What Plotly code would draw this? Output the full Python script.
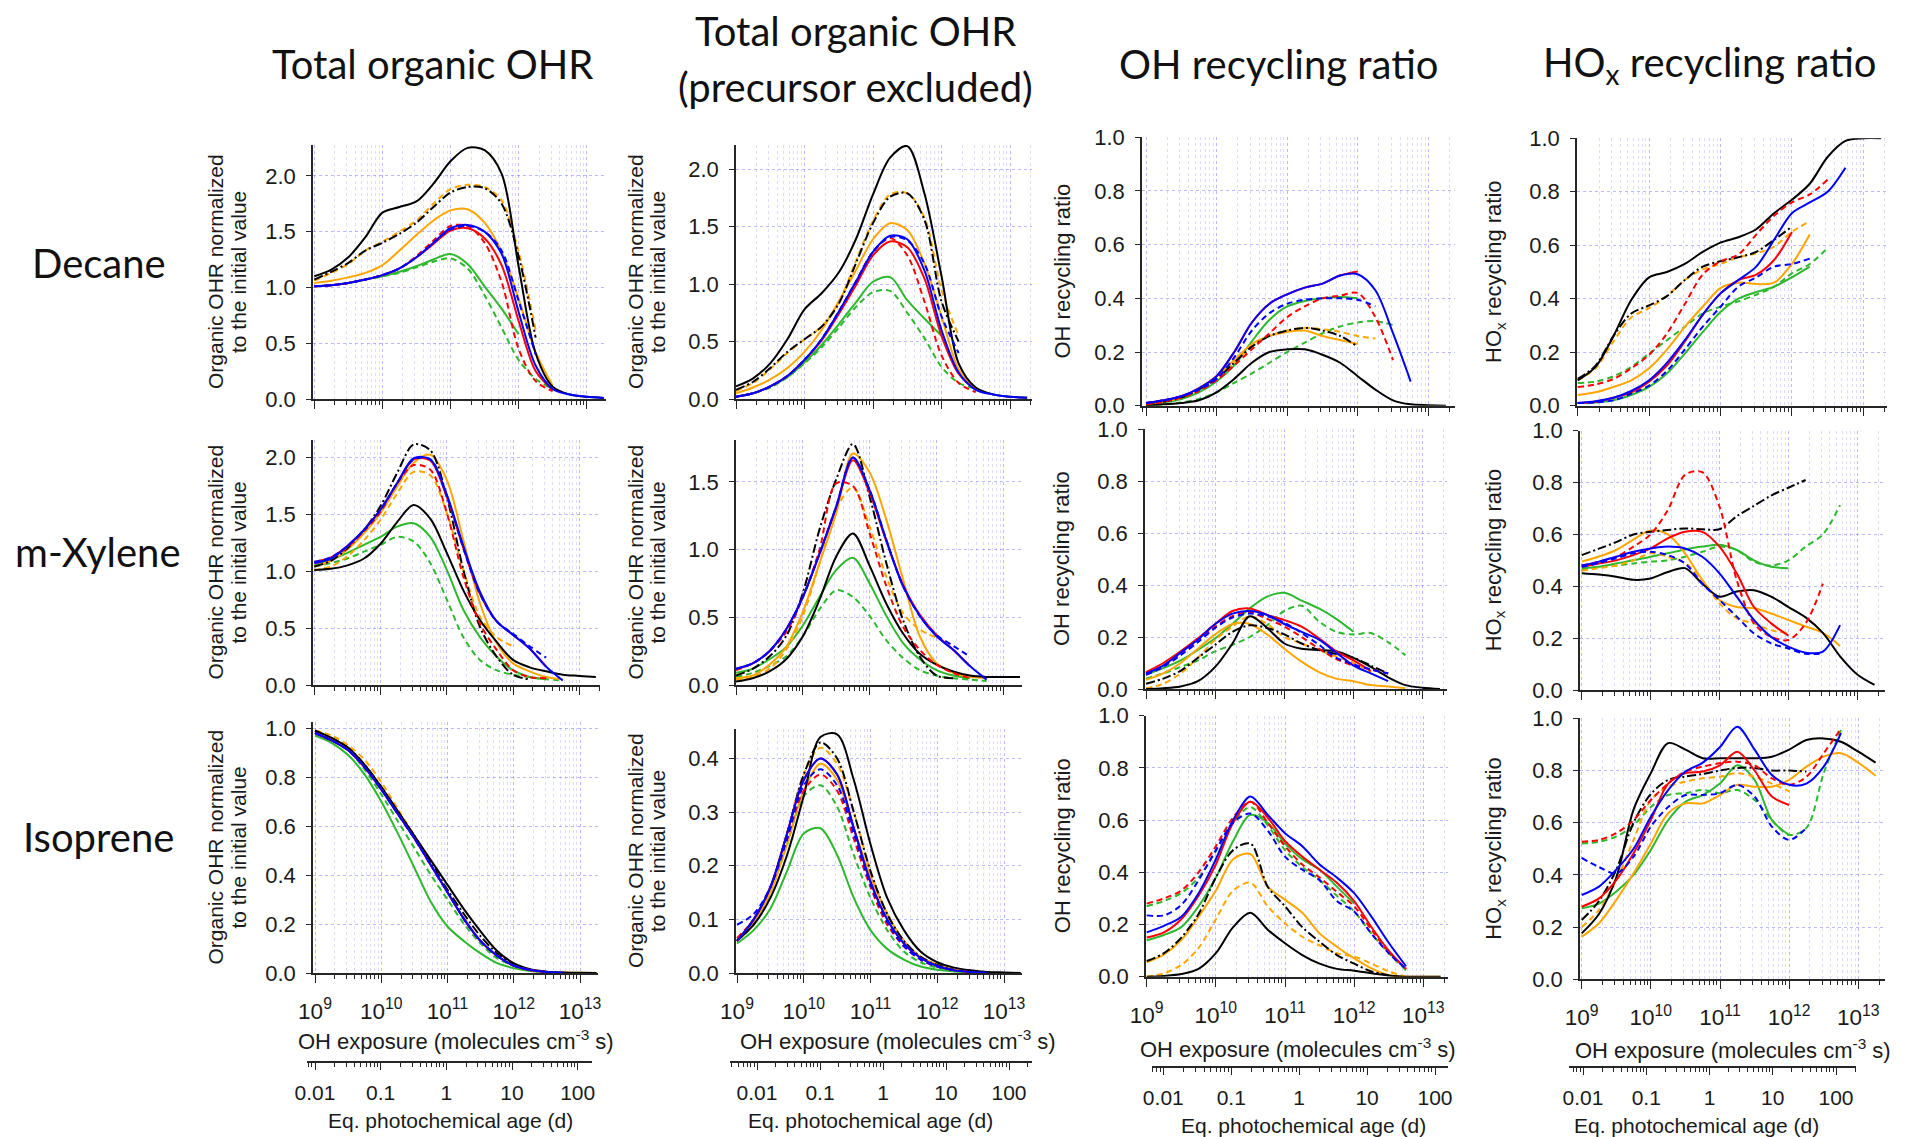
import plotly.graph_objects as go

W, H = 1915, 1137
N = None

# ---------------- shared axis data ----------------
LOG_EXPOSURE = [9.0, 9.25, 9.5, 9.75, 10.0, 10.25, 10.5, 10.75, 11.0, 11.25,
                11.5, 11.75, 12.0, 12.25, 12.5, 12.75, 13.0, 13.25]
EXPOSURE = [10 ** v for v in LOG_EXPOSURE]          # OH exposure (molecules cm-3 s)
AGE_TICKS = [0.01, 0.1, 1, 10, 100]                   # eq. photochemical age (d)
ROW_LABELS = ["Decane", "m-Xylene", "Isoprene"]
COL_TITLES = [["Total organic OHR"], ["Total organic OHR", "(precursor excluded)"],
              ["OH recycling ratio"], ["HO<sub>x</sub> recycling ratio"]]

# ---------------- Decane ----------------
DECANE_OHR = dict(
    black=[1.10, 1.16, 1.27, 1.45, 1.67, 1.72, 1.77, 1.93, 2.13, 2.25, 2.23, 2.02, 1.19, 0.41, 0.11, 0.04, 0.02, 0.01],
    black_dd=[1.07, 1.14, 1.22, 1.33, 1.40, 1.48, 1.58, 1.72, 1.85, 1.90, 1.89, 1.75, 1.28, 0.55, N, N, N, N],
    orange=[1.04, 1.06, 1.09, 1.13, 1.20, 1.33, 1.47, 1.60, 1.69, 1.70, 1.58, 1.32, 0.90, 0.42, 0.12, N, N, N],
    orange_d=[1.06, 1.13, 1.21, 1.33, 1.41, 1.50, 1.60, 1.75, 1.88, 1.92, 1.90, 1.78, 1.32, 0.62, N, N, N, N],
    red=[1.01, 1.02, 1.04, 1.07, 1.11, 1.17, 1.27, 1.39, 1.51, 1.53, 1.44, 1.20, 0.70, 0.25, 0.08, N, N, N],
    red_d=[1.01, 1.02, 1.04, 1.07, 1.11, 1.17, 1.28, 1.42, 1.55, 1.55, 1.40, 1.05, 0.45, 0.16, 0.07, N, N, N],
    blue=[1.01, 1.02, 1.04, 1.07, 1.11, 1.17, 1.27, 1.40, 1.53, 1.56, 1.50, 1.30, 0.78, 0.30, 0.09, 0.04, 0.02, 0.01],
    blue_d=[1.01, 1.02, 1.04, 1.07, 1.11, 1.17, 1.27, 1.40, 1.52, 1.55, 1.50, 1.33, 0.88, 0.40, N, N, N, N],
    green=[1.01, 1.02, 1.04, 1.07, 1.10, 1.14, 1.19, 1.25, 1.30, 1.21, 1.01, 0.81, 0.58, N, N, N, N, N],
    green_d=[1.01, 1.02, 1.04, 1.07, 1.10, 1.13, 1.18, 1.23, 1.26, 1.17, 0.93, 0.64, 0.35, 0.18, 0.09, N, N, N],
)
DECANE_OHR_EXCL = dict(
    black=[0.11, 0.18, 0.31, 0.52, 0.78, 0.92, 1.10, 1.39, 1.78, 2.10, 2.20, 1.79, 1.07, 0.31, 0.10, 0.04, 0.02, 0.01],
    black_dd=[0.08, 0.15, 0.27, 0.41, 0.52, 0.63, 0.83, 1.18, 1.53, 1.76, 1.79, 1.56, 0.85, 0.50, N, N, N, N],
    orange=[0.05, 0.10, 0.17, 0.27, 0.41, 0.60, 0.85, 1.12, 1.39, 1.53, 1.47, 1.18, 0.72, 0.26, 0.08, N, N, N],
    orange_d=[0.07, 0.14, 0.26, 0.40, 0.52, 0.63, 0.84, 1.20, 1.55, 1.78, 1.79, 1.58, 0.95, 0.55, N, N, N, N],
    red=[0.02, 0.05, 0.11, 0.20, 0.34, 0.51, 0.74, 0.99, 1.25, 1.37, 1.32, 1.05, 0.55, 0.22, 0.08, N, N, N],
    red_d=[0.02, 0.05, 0.11, 0.20, 0.34, 0.52, 0.76, 1.02, 1.28, 1.40, 1.25, 0.85, 0.38, 0.14, 0.06, N, N, N],
    blue=[0.02, 0.05, 0.11, 0.20, 0.34, 0.52, 0.76, 1.02, 1.28, 1.42, 1.39, 1.12, 0.60, 0.23, 0.08, 0.04, 0.02, 0.01],
    blue_d=[0.02, 0.05, 0.11, 0.20, 0.34, 0.52, 0.76, 1.02, 1.28, 1.41, 1.38, 1.18, 0.72, 0.40, N, N, N, N],
    green=[0.02, 0.05, 0.11, 0.19, 0.32, 0.47, 0.65, 0.84, 1.02, 1.06, 0.86, 0.70, 0.55, N, N, N, N, N],
    green_d=[0.02, 0.05, 0.10, 0.19, 0.31, 0.45, 0.62, 0.80, 0.93, 0.94, 0.75, 0.53, 0.28, 0.14, 0.09, N, N, N],
)
DECANE_OH = dict(
    black=[0.00, 0.005, 0.01, 0.02, 0.05, 0.10, 0.16, 0.20, 0.21, 0.21, 0.19, 0.16, 0.11, 0.06, 0.02, 0.005, 0.002, 0.0],
    black_dd=[0.01, 0.015, 0.03, 0.06, 0.10, 0.16, 0.22, 0.26, 0.28, 0.29, 0.28, 0.26, 0.22, N, N, N, N, N],
    orange=[0.005, 0.015, 0.03, 0.065, 0.11, 0.17, 0.23, 0.26, 0.275, 0.28, 0.26, 0.245, 0.23, N, N, N, N, N],
    orange_d=[0.01, 0.015, 0.03, 0.06, 0.10, 0.16, 0.22, 0.26, 0.28, 0.29, 0.285, 0.275, 0.26, 0.25, N, N, N, N],
    red=[0.01, 0.02, 0.035, 0.065, 0.11, 0.20, 0.31, 0.38, 0.415, 0.44, 0.455, 0.485, 0.50, N, N, N, N, N],
    red_d=[0.005, 0.015, 0.03, 0.055, 0.095, 0.15, 0.21, 0.27, 0.33, 0.37, 0.40, 0.41, 0.42, 0.33, 0.17, N, N, N],
    blue=[0.01, 0.02, 0.035, 0.065, 0.11, 0.20, 0.31, 0.38, 0.415, 0.44, 0.455, 0.485, 0.49, 0.43, 0.27, 0.09, N, N],
    blue_d=[0.01, 0.02, 0.035, 0.06, 0.10, 0.18, 0.28, 0.345, 0.38, 0.395, 0.40, 0.40, 0.395, 0.37, N, N, N, N],
    green=[0.005, 0.012, 0.025, 0.05, 0.09, 0.15, 0.24, 0.32, 0.37, 0.39, 0.40, 0.405, 0.40, N, N, N, N, N],
    green_d=[0.0, 0.005, 0.012, 0.025, 0.05, 0.085, 0.12, 0.16, 0.20, 0.235, 0.27, 0.295, 0.31, 0.315, 0.30, N, N, N],
)
DECANE_HOX = dict(
    black=[0.095, 0.145, 0.26, 0.395, 0.48, 0.50, 0.53, 0.575, 0.61, 0.63, 0.66, 0.72, 0.77, 0.83, 0.93, 0.99, 1.0, 1.0],
    black_dd=[0.10, 0.15, 0.26, 0.345, 0.375, 0.41, 0.47, 0.52, 0.54, 0.555, 0.575, 0.62, 0.67, N, N, N, N, N],
    orange=[0.04, 0.05, 0.07, 0.095, 0.14, 0.21, 0.295, 0.37, 0.44, 0.46, 0.455, 0.46, 0.53, 0.64, N, N, N, N],
    orange_d=[0.095, 0.14, 0.24, 0.33, 0.365, 0.41, 0.47, 0.51, 0.53, 0.555, 0.57, 0.595, 0.65, 0.69, N, N, N, N],
    red=[0.01, 0.015, 0.03, 0.05, 0.09, 0.15, 0.24, 0.34, 0.42, 0.47, 0.49, 0.545, 0.65, N, N, N, N, N],
    red_d=[0.07, 0.08, 0.10, 0.14, 0.19, 0.27, 0.38, 0.49, 0.54, 0.565, 0.64, 0.71, 0.76, 0.79, 0.845, N, N, N],
    blue=[0.01, 0.017, 0.03, 0.055, 0.095, 0.16, 0.245, 0.34, 0.42, 0.47, 0.52, 0.62, 0.72, 0.76, 0.80, 0.89, N, N],
    blue_d=[0.01, 0.012, 0.02, 0.045, 0.075, 0.13, 0.21, 0.295, 0.37, 0.445, 0.48, 0.52, 0.53, 0.55, N, N, N, N],
    green=[0.01, 0.012, 0.02, 0.04, 0.07, 0.12, 0.195, 0.275, 0.35, 0.40, 0.425, 0.445, 0.48, 0.52, N, N, N, N],
    green_d=[0.085, 0.09, 0.11, 0.145, 0.195, 0.245, 0.295, 0.345, 0.37, 0.39, 0.415, 0.445, 0.495, 0.53, 0.59, N, N, N],
)

# ---------------- m-Xylene ----------------
XYLENE_OHR = dict(
    black=[1.01, 1.02, 1.05, 1.11, 1.24, 1.43, 1.58, 1.46, 1.16, 0.83, 0.57, 0.38, 0.22, 0.155, 0.12, 0.09, 0.08, 0.07],
    black_dd=[1.04, 1.09, 1.20, 1.36, 1.57, 1.86, 2.11, 2.06, 1.65, 1.01, 0.51, 0.25, 0.09, 0.05, N, N, N, N],
    orange=[1.04, 1.09, 1.19, 1.33, 1.51, 1.74, 1.95, 2.02, 1.80, 1.27, 0.72, 0.37, 0.19, 0.12, 0.07, 0.05, N, N],
    orange_d=[1.01, 1.04, 1.13, 1.27, 1.45, 1.68, 1.87, 1.84, 1.51, 1.01, 0.60, 0.42, 0.34, N, N, N, N, N],
    red=[1.08, 1.12, 1.22, 1.36, 1.54, 1.77, 1.98, 1.97, 1.65, 1.20, 0.80, 0.56, 0.44, 0.32, 0.16, N, N, N],
    red_d=[1.07, 1.11, 1.21, 1.35, 1.52, 1.77, 1.93, 1.89, 1.51, 0.95, 0.54, 0.31, 0.13, 0.07, 0.06, N, N, N],
    blue=[1.07, 1.11, 1.22, 1.36, 1.54, 1.77, 1.99, 1.98, 1.67, 1.22, 0.82, 0.56, 0.44, 0.32, 0.16, 0.04, N, N],
    blue_d=[1.08, 1.12, 1.22, 1.36, 1.54, 1.77, 1.98, 1.98, 1.66, 1.20, 0.80, 0.56, 0.45, 0.34, 0.24, N, N, N],
    green=[1.05, 1.10, 1.16, 1.23, 1.30, 1.39, 1.42, 1.30, 1.01, 0.66, 0.42, 0.25, 0.13, 0.07, 0.05, N, N, N],
    green_d=[1.04, 1.07, 1.11, 1.17, 1.23, 1.30, 1.26, 1.07, 0.75, 0.42, 0.22, 0.13, 0.09, 0.07, 0.05, 0.04, N, N],
)
XYLENE_OHR_EXCL = dict(
    black=[0.025, 0.05, 0.10, 0.19, 0.36, 0.63, 0.95, 1.12, 0.88, 0.60, 0.38, 0.23, 0.15, 0.10, 0.07, 0.06, 0.06, 0.06],
    black_dd=[0.07, 0.12, 0.21, 0.36, 0.68, 1.15, 1.52, 1.78, 1.39, 0.90, 0.48, 0.21, 0.07, 0.05, N, N, N, N],
    orange=[0.05, 0.07, 0.15, 0.28, 0.54, 0.90, 1.27, 1.71, 1.57, 1.22, 0.78, 0.36, 0.16, 0.09, 0.06, 0.05, N, N],
    orange_d=[0.04, 0.06, 0.12, 0.26, 0.51, 0.90, 1.30, 1.46, 1.17, 0.80, 0.53, 0.41, 0.35, N, N, N, N, N],
    red=[0.12, 0.16, 0.25, 0.41, 0.65, 0.97, 1.31, 1.66, 1.42, 1.06, 0.74, 0.52, 0.37, 0.26, 0.14, N, N, N],
    red_d=[0.11, 0.16, 0.25, 0.39, 0.65, 1.00, 1.49, 1.47, 1.12, 0.73, 0.43, 0.26, 0.15, 0.09, 0.05, N, N, N],
    blue=[0.12, 0.16, 0.25, 0.41, 0.65, 0.97, 1.32, 1.68, 1.44, 1.07, 0.73, 0.51, 0.36, 0.26, 0.14, 0.04, N, N],
    blue_d=[0.12, 0.16, 0.25, 0.41, 0.65, 0.97, 1.32, 1.68, 1.44, 1.07, 0.73, 0.51, 0.37, 0.29, 0.21, N, N, N],
    green=[0.09, 0.12, 0.19, 0.28, 0.44, 0.65, 0.85, 0.94, 0.75, 0.51, 0.31, 0.19, 0.11, 0.07, 0.05, N, N, N],
    green_d=[0.06, 0.09, 0.14, 0.21, 0.36, 0.56, 0.70, 0.65, 0.51, 0.33, 0.20, 0.11, 0.07, 0.05, 0.04, 0.03, N, N],
)
XYLENE_OH = dict(
    black=[0.0, 0.003, 0.01, 0.03, 0.085, 0.175, 0.28, 0.235, 0.175, 0.155, 0.15, 0.145, 0.12, 0.085, 0.045, 0.015, 0.005, 0.0],
    black_dd=[0.02, 0.04, 0.07, 0.12, 0.17, 0.22, 0.245, 0.235, 0.21, 0.175, 0.15, 0.135, 0.12, 0.09, 0.06, N, N, N],
    orange=[0.035, 0.06, 0.10, 0.155, 0.21, 0.25, 0.25, 0.21, 0.155, 0.105, 0.065, 0.04, 0.03, 0.015, 0.01, 0.003, N, N],
    orange_d=[0.003, 0.02, 0.06, 0.12, 0.19, 0.24, 0.28, 0.25, 0.20, 0.175, 0.15, 0.125, 0.10, 0.065, N, N, N, N],
    red=[0.065, 0.10, 0.145, 0.195, 0.25, 0.30, 0.31, 0.285, 0.265, 0.24, 0.195, 0.145, 0.11, 0.07, N, N, N, N],
    red_d=[0.06, 0.09, 0.135, 0.185, 0.24, 0.28, 0.295, 0.27, 0.24, 0.20, 0.155, 0.115, 0.09, 0.075, 0.06, N, N, N],
    blue=[0.06, 0.09, 0.14, 0.19, 0.25, 0.29, 0.30, 0.285, 0.25, 0.22, 0.19, 0.14, 0.09, 0.06, 0.03, N, N, N],
    blue_d=[0.055, 0.085, 0.13, 0.18, 0.235, 0.275, 0.29, 0.28, 0.255, 0.215, 0.17, 0.12, 0.095, 0.075, 0.06, N, N, N],
    green=[0.055, 0.08, 0.11, 0.15, 0.195, 0.25, 0.31, 0.355, 0.37, 0.34, 0.31, 0.27, 0.22, N, N, N, N, N],
    green_d=[0.04, 0.06, 0.085, 0.11, 0.145, 0.17, 0.20, 0.245, 0.30, 0.32, 0.26, 0.22, 0.21, 0.215, 0.18, 0.13, N, N],
)
XYLENE_HOX = dict(
    black=[0.45, 0.445, 0.437, 0.425, 0.43, 0.455, 0.47, 0.41, 0.36, 0.38, 0.385, 0.36, 0.32, 0.28, 0.22, 0.13, 0.06, 0.02],
    black_dd=[0.52, 0.545, 0.57, 0.60, 0.61, 0.617, 0.623, 0.62, 0.62, 0.67, 0.71, 0.75, 0.78, 0.81, N, N, N, N],
    orange=[0.495, 0.515, 0.54, 0.58, 0.615, 0.60, 0.527, 0.424, 0.347, 0.32, 0.315, 0.295, 0.27, 0.245, 0.22, 0.17, N, N],
    orange_d=[0.46, 0.47, 0.48, 0.50, 0.527, 0.514, 0.49, 0.424, 0.334, 0.276, 0.257, 0.23, 0.22, N, N, N, N, N],
    red=[0.475, 0.488, 0.50, 0.52, 0.546, 0.585, 0.61, 0.61, 0.553, 0.45, 0.32, 0.257, 0.21, N, N, N, N, N],
    red_d=[0.48, 0.495, 0.514, 0.553, 0.60, 0.694, 0.83, 0.84, 0.707, 0.424, 0.257, 0.205, 0.193, 0.257, 0.41, N, N, N],
    blue=[0.48, 0.495, 0.514, 0.533, 0.546, 0.553, 0.546, 0.514, 0.45, 0.36, 0.27, 0.205, 0.167, 0.144, 0.148, 0.25, N, N],
    blue_d=[0.475, 0.49, 0.508, 0.527, 0.533, 0.52, 0.488, 0.41, 0.347, 0.283, 0.218, 0.18, 0.16, 0.14, 0.14, N, N, N],
    green=[0.47, 0.475, 0.488, 0.50, 0.514, 0.527, 0.542, 0.553, 0.56, 0.54, 0.50, 0.475, 0.47, N, N, N, N, N],
    green_d=[0.463, 0.475, 0.48, 0.488, 0.495, 0.50, 0.514, 0.533, 0.553, 0.54, 0.495, 0.48, 0.50, 0.553, 0.60, 0.713, N, N],
)

# ---------------- Isoprene ----------------
ISOPRENE_OHR = dict(
    black=[0.99, 0.96, 0.92, 0.85, 0.76, 0.66, 0.56, 0.46, 0.36, 0.26, 0.17, 0.09, 0.04, 0.015, 0.005, 0.002, 0.001, 0.0],
    black_dd=[0.99, 0.96, 0.92, 0.85, 0.76, 0.66, 0.56, 0.45, 0.34, 0.24, 0.15, 0.08, 0.035, 0.012, 0.004, N, N, N],
    orange=[0.98, 0.95, 0.91, 0.84, 0.75, 0.65, 0.55, 0.44, 0.33, 0.22, 0.13, 0.07, 0.03, 0.012, 0.004, 0.002, 0.001, 0.0],
    orange_d=[0.99, 0.97, 0.93, 0.87, 0.78, 0.67, 0.56, 0.44, 0.33, 0.22, 0.13, 0.07, 0.03, 0.012, 0.004, 0.002, N, N],
    red=[0.98, 0.95, 0.91, 0.84, 0.75, 0.65, 0.55, 0.44, 0.33, 0.22, 0.13, 0.07, 0.03, 0.012, 0.004, N, N, N],
    red_d=[0.98, 0.95, 0.91, 0.84, 0.75, 0.65, 0.55, 0.44, 0.33, 0.22, 0.13, 0.07, 0.03, 0.012, N, N, N, N],
    blue=[0.98, 0.95, 0.91, 0.84, 0.75, 0.65, 0.55, 0.44, 0.33, 0.22, 0.13, 0.07, 0.03, 0.012, 0.004, 0.002, N, N],
    blue_d=[0.98, 0.95, 0.91, 0.84, 0.75, 0.65, 0.55, 0.44, 0.33, 0.22, 0.13, 0.07, 0.03, 0.012, N, N, N, N],
    green=[0.97, 0.94, 0.89, 0.81, 0.70, 0.57, 0.43, 0.29, 0.19, 0.13, 0.08, 0.04, 0.02, 0.008, 0.003, N, N, N],
    green_d=[0.98, 0.95, 0.91, 0.83, 0.73, 0.62, 0.51, 0.40, 0.30, 0.20, 0.12, 0.06, 0.03, 0.01, N, N, N, N],
)
ISOPRENE_OHR_EXCL = dict(
    black=[0.06, 0.09, 0.14, 0.22, 0.33, 0.44, 0.445, 0.36, 0.24, 0.14, 0.08, 0.04, 0.02, 0.01, 0.005, 0.002, 0.001, 0.0],
    black_dd=[0.06, 0.10, 0.16, 0.26, 0.37, 0.43, 0.40, 0.30, 0.19, 0.11, 0.06, 0.03, 0.015, 0.006, N, N, N, N],
    orange=[0.06, 0.095, 0.15, 0.24, 0.34, 0.39, 0.36, 0.27, 0.18, 0.11, 0.06, 0.03, 0.015, 0.006, 0.002, 0.001, 0.0, 0.0],
    orange_d=[0.06, 0.10, 0.16, 0.26, 0.37, 0.42, 0.39, 0.30, 0.19, 0.11, 0.06, 0.03, 0.015, 0.006, 0.002, N, N, N],
    red=[0.06, 0.10, 0.16, 0.26, 0.36, 0.40, 0.37, 0.27, 0.17, 0.10, 0.055, 0.028, 0.013, 0.005, 0.002, N, N, N],
    red_d=[0.065, 0.10, 0.16, 0.25, 0.34, 0.37, 0.34, 0.25, 0.16, 0.09, 0.05, 0.025, 0.012, 0.005, N, N, N, N],
    blue=[0.06, 0.10, 0.16, 0.26, 0.36, 0.40, 0.37, 0.27, 0.17, 0.10, 0.055, 0.028, 0.013, 0.005, 0.002, 0.001, N, N],
    blue_d=[0.09, 0.11, 0.16, 0.25, 0.35, 0.38, 0.35, 0.26, 0.165, 0.095, 0.05, 0.025, 0.012, 0.005, N, N, N, N],
    green=[0.055, 0.08, 0.12, 0.19, 0.26, 0.27, 0.22, 0.14, 0.08, 0.045, 0.025, 0.012, 0.006, 0.003, 0.001, N, N, N],
    green_d=[0.06, 0.09, 0.15, 0.24, 0.33, 0.35, 0.31, 0.22, 0.14, 0.08, 0.04, 0.02, 0.01, 0.004, N, N, N, N],
)
ISOPRENE_OH = dict(
    black=[0.0, 0.003, 0.01, 0.03, 0.09, 0.19, 0.245, 0.18, 0.128, 0.083, 0.05, 0.03, 0.023, 0.013, 0.005, 0.0, 0.0, 0.0],
    black_dd=[0.06, 0.09, 0.15, 0.24, 0.38, 0.485, 0.51, 0.345, 0.27, 0.19, 0.134, 0.083, 0.05, 0.02, 0.006, N, N, N],
    orange=[0.055, 0.085, 0.14, 0.23, 0.33, 0.45, 0.47, 0.345, 0.295, 0.245, 0.166, 0.115, 0.07, 0.032, 0.006, 0.0, 0.0, 0.0],
    orange_d=[0.0, 0.013, 0.045, 0.11, 0.22, 0.33, 0.36, 0.27, 0.205, 0.153, 0.12, 0.09, 0.077, 0.05, 0.02, 0.0, N, N],
    red=[0.15, 0.17, 0.22, 0.31, 0.43, 0.59, 0.67, 0.61, 0.52, 0.46, 0.41, 0.36, 0.29, 0.19, 0.10, 0.03, N, N],
    red_d=[0.28, 0.30, 0.33, 0.40, 0.50, 0.61, 0.67, 0.59, 0.50, 0.43, 0.38, 0.325, 0.27, 0.18, 0.095, 0.03, N, N],
    blue=[0.17, 0.195, 0.23, 0.32, 0.45, 0.60, 0.69, 0.62, 0.55, 0.50, 0.43, 0.38, 0.32, 0.23, 0.13, 0.04, N, N],
    blue_d=[0.235, 0.235, 0.275, 0.37, 0.485, 0.59, 0.625, 0.56, 0.46, 0.41, 0.37, 0.29, 0.25, 0.165, 0.09, 0.03, N, N],
    green=[0.14, 0.16, 0.19, 0.27, 0.38, 0.52, 0.62, 0.59, 0.51, 0.45, 0.41, 0.345, 0.28, N, N, N, N, N],
    green_d=[0.27, 0.29, 0.32, 0.38, 0.48, 0.59, 0.65, 0.58, 0.485, 0.42, 0.37, 0.31, 0.25, 0.165, 0.09, 0.025, N, N],
)
ISOPRENE_HOX = dict(
    black=[0.176, 0.25, 0.39, 0.65, 0.79, 0.905, 0.88, 0.847, 0.847, 0.847, 0.847, 0.853, 0.88, 0.917, 0.923, 0.91, 0.872, 0.83],
    black_dd=[0.227, 0.30, 0.42, 0.60, 0.71, 0.764, 0.777, 0.787, 0.80, 0.81, 0.81, 0.80, 0.80, 0.796, N, N, N, N],
    orange=[0.163, 0.215, 0.304, 0.406, 0.52, 0.636, 0.674, 0.674, 0.706, 0.745, 0.738, 0.738, 0.764, 0.815, 0.853, 0.866, 0.83, 0.78],
    orange_d=[0.20, 0.266, 0.38, 0.534, 0.687, 0.738, 0.757, 0.77, 0.776, 0.79, 0.776, 0.75, 0.72, N, N, N, N, N],
    red=[0.278, 0.31, 0.38, 0.483, 0.61, 0.75, 0.79, 0.796, 0.82, 0.872, 0.80, 0.70, 0.668, N, N, N, N, N],
    red_d=[0.527, 0.534, 0.56, 0.61, 0.687, 0.75, 0.796, 0.815, 0.828, 0.834, 0.82, 0.77, 0.745, 0.776, 0.866, 0.96, N, N],
    blue=[0.323, 0.355, 0.42, 0.50, 0.623, 0.725, 0.796, 0.83, 0.89, 0.968, 0.88, 0.783, 0.745, 0.75, 0.815, 0.943, N, N],
    blue_d=[0.465, 0.43, 0.406, 0.47, 0.585, 0.66, 0.706, 0.706, 0.713, 0.745, 0.70, 0.585, 0.534, 0.58, N, N, N, N],
    green=[0.272, 0.29, 0.336, 0.40, 0.496, 0.61, 0.68, 0.706, 0.75, 0.82, 0.764, 0.61, 0.553, N, N, N, N, N],
    green_d=[0.52, 0.527, 0.547, 0.59, 0.66, 0.706, 0.713, 0.725, 0.713, 0.725, 0.687, 0.61, 0.553, 0.58, 0.79, 0.955, N, N],
)

PANELS = [
    [DECANE_OHR, DECANE_OHR_EXCL, DECANE_OH, DECANE_HOX],
    [XYLENE_OHR, XYLENE_OHR_EXCL, XYLENE_OH, XYLENE_HOX],
    [ISOPRENE_OHR, ISOPRENE_OHR_EXCL, ISOPRENE_OH, ISOPRENE_HOX],
]
Y_TOP = [[2.276, 2.21, 1.0, 1.0], [2.15, 1.81, 1.0, 1.0], [1.025, 0.455, 1.0, 1.0]]
Y_DTICK = [[0.5, 0.5, 0.2, 0.2], [0.5, 0.5, 0.2, 0.2], [0.2, 0.1, 0.2, 0.2]]

# ---------------- styling / layout geometry (pixels) ----------------
BLACK, ORANGE, RED, BLUE, GREEN = "#000000", "#FFA500", "#FF0000", "#0000FF", "#2DB82D"
DASH = "6px,4px"
DASHDOT = "9px,3px,2px,3px"
STYLE = [
    ("green_d", GREEN, DASH), ("green", GREEN, "solid"),
    ("orange_d", ORANGE, DASH), ("orange", ORANGE, "solid"),
    ("black_dd", BLACK, DASHDOT), ("black", BLACK, "solid"),
    ("red_d", RED, DASH), ("red", RED, "solid"),
    ("blue_d", BLUE, DASH), ("blue", BLUE, "solid"),
]
# (left, right, pixel of 1e9, pixel of 1e13)
X_PX = [
    [(313, 606, 314.3, 586.7), (736, 1032, 736, 1010), (1142, 1455, 1146, 1428.3), (1577, 1887, 1577.7, 1863.3)],
    [(313, 600, 314.3, 579.3), (736, 1022, 736, 1003.3), (1145, 1447, 1146, 1422.7), (1580, 1885, 1581.7, 1857.3)],
    [(313, 598, 315, 580), (736, 1022, 737, 1004), (1146, 1448, 1146.7, 1423.3), (1580, 1885, 1581.7, 1858.3)],
]
# (top, bottom)
Y_PX = [
    [(145, 399), (145, 399), (137.3, 405.7), (138.3, 405.7)],
    [(440, 685), (440, 685), (429, 689), (430.7, 690)],
    [(722, 973), (729, 973), (715.7, 976.7), (718.3, 979.3)],
]
# age axis per column: (line y, left, right, px of 0.01 d, px of 100 d)
AGE_PX = [(1062, 306.7, 591.7, 315, 577.7), (1062, 730, 1032, 757, 1009),
          (1067, 1151.7, 1448.3, 1163.3, 1435), (1067, 1569, 1856, 1583, 1836)]
XTITLE_POS = [(456, 1040), (898, 1040), (1298, 1048), (1733, 1049)]
AGETITLE_POS = [(450, 1120), (870, 1120), (1303, 1125), (1696, 1125)]
YTITLE_X = [(215, 238), (635, 657), (1062,), (1495,)]
YTITLE_TEXT = [("Organic OHR normalized", "to the initial value"),
               ("Organic OHR normalized", "to the initial value"),
               ("OH recycling ratio",), ("HO<sub>x</sub> recycling ratio",)]

AX = "#262626"
GRID = "rgba(80,80,255,0.40)"
GRID_MINOR = "rgba(80,80,255,0.20)"
TFONT = "Liberation Sans, Arial, sans-serif"
BIGFONT = "Lato, Open Sans, sans-serif"


def fx(p):
    return p / W


def fy(p):
    return 1 - p / H


fig = go.Figure()
layout = dict(width=W, height=H, autosize=False,
              margin=dict(l=0, r=0, t=0, b=0, pad=0, autoexpand=False),
              paper_bgcolor="white", plot_bgcolor="rgba(0,0,0,0)", showlegend=False,
              font=dict(family=TFONT, size=22, color="#1a1a1a"))
annotations = []

for r in range(3):
    for c in range(4):
        n = r * 4 + c + 1
        left, right, p9, p13 = X_PX[r][c]
        d = (p13 - p9) / 4.0
        xr = [9 - (p9 - left) / d, 9 + (right - p9) / d]
        top, bottom = Y_PX[r][c]
        layout[f"xaxis{n}"] = dict(
            domain=[fx(left), fx(right)], anchor=f"y{n}", type="log", range=xr,
            dtick=1, tick0=0, exponentformat="power", showexponent="all",
            ticks="outside", ticklen=8, tickwidth=1.3, tickcolor=AX,
            showline=True, linecolor=AX, linewidth=1.6, automargin=False,
            showticklabels=(r == 2), tickfont=dict(family=TFONT, size=18, color="#1a1a1a"),
            ticklabelstandoff=10,
            showgrid=True, gridcolor=GRID, griddash="dot", gridwidth=1,
            minor=dict(ticks="outside", ticklen=4, tickwidth=1.2, tickcolor=AX, dtick="D1",
                       showgrid=True, gridcolor=GRID_MINOR, griddash="dot", gridwidth=1),
            zeroline=False, fixedrange=True)
        layout[f"yaxis{n}"] = dict(
            domain=[fy(bottom), fy(top)], anchor=f"x{n}", range=[0, Y_TOP[r][c]],
            tick0=0, dtick=Y_DTICK[r][c], tickformat=".1f", automargin=False,
            ticks="outside", ticklen=5, tickwidth=1.3, tickcolor=AX,
            showline=True, linecolor=AX, linewidth=1.6,
            tickfont=dict(family=TFONT, size=22, color="#1a1a1a"), ticklabelstandoff=6,
            showgrid=True, gridcolor=GRID, griddash="dot", gridwidth=1,
            zeroline=False, fixedrange=True)
        data = PANELS[r][c]
        for key, color, dash in STYLE:
            fig.add_trace(go.Scatter(
                x=EXPOSURE, y=data[key], mode="lines",
                line=dict(color=color, width=2, dash=dash, shape="spline", smoothing=0.9),
                connectgaps=False, hoverinfo="skip", showlegend=False,
                xaxis=f"x{n}", yaxis=f"y{n}"))
        # y-axis titles
        ymid = (top + bottom) / 2
        for xpos, txt in zip(YTITLE_X[c], YTITLE_TEXT[c]):
            annotations.append(dict(
                text=txt, x=fx(xpos), y=fy(ymid), xref="paper", yref="paper",
                xanchor="center", yanchor="middle", textangle=-90, showarrow=False,
                font=dict(family=TFONT, size=21 if c < 2 else 22, color="#1a1a1a")))

# secondary "equivalent photochemical age" axes under the bottom row
for c in range(4):
    n = 13 + c
    ly, left, right, p1, p5 = AGE_PX[c]
    d = (p5 - p1) / 4.0
    ar = [-2 - (p1 - left) / d, 2 + (right - p5) / d]
    layout[f"xaxis{n}"] = dict(
        domain=[fx(left), fx(right)], anchor="free", position=fy(ly), side="bottom",
        type="log", range=ar, dtick=1, tick0=0, exponentformat="none", automargin=False,
        ticks="outside", ticklen=7, tickwidth=1.3, tickcolor=AX,
        showline=True, linecolor=AX, linewidth=1.6, showgrid=False, zeroline=False,
        tickfont=dict(family=TFONT, size=21, color="#1a1a1a"), ticklabelstandoff=5,
        minor=dict(ticks="outside", ticklen=4, tickwidth=1.2, tickcolor=AX, dtick="D1", showgrid=False),
        fixedrange=True)
    layout[f"yaxis{n}"] = dict(domain=[fy(ly), fy(ly) + 0.002], anchor=f"x{n}", visible=False,
                               range=[-1, 1], fixedrange=True, automargin=False)
    fig.add_trace(go.Scatter(x=AGE_TICKS, y=[0] * len(AGE_TICKS), mode="markers",
                             marker=dict(opacity=0, size=1), hoverinfo="skip", showlegend=False,
                             xaxis=f"x{n}", yaxis=f"y{n}"))
    tx, ty = XTITLE_POS[c]
    annotations.append(dict(text="OH exposure (molecules cm<sup>-3</sup> s)", x=fx(tx), y=fy(ty),
                            xref="paper", yref="paper", xanchor="center", yanchor="middle",
                            showarrow=False, font=dict(family=TFONT, size=22, color="#1a1a1a")))
    ax_, ay_ = AGETITLE_POS[c]
    annotations.append(dict(text="Eq. photochemical age (d)", x=fx(ax_), y=fy(ay_),
                            xref="paper", yref="paper", xanchor="center", yanchor="middle",
                            showarrow=False, font=dict(family=TFONT, size=21, color="#1a1a1a")))

# column titles
TITLE_POS = [[(432, 64)], [(855, 31), (855, 87)], [(1279, 64)], [(1709, 64)]]
for c in range(4):
    for (tx, ty), txt in zip(TITLE_POS[c], COL_TITLES[c]):
        annotations.append(dict(text=txt, x=fx(tx), y=fy(ty), xref="paper", yref="paper",
                                xanchor="center", yanchor="middle", showarrow=False,
                                font=dict(family=BIGFONT, size=40, color="#111111")))
# row labels
ROW_POS = [(99, 263), (98, 552), (98, 837)]
for (tx, ty), txt in zip(ROW_POS, ROW_LABELS):
    annotations.append(dict(text=txt, x=fx(tx), y=fy(ty), xref="paper", yref="paper",
                            xanchor="center", yanchor="middle", showarrow=False,
                            font=dict(family=BIGFONT, size=40, color="#111111")))

layout["annotations"] = annotations
fig.update_layout(**layout)
fig.write_html(
    "out.html",
    config={"displayModeBar": False, "responsive": False},
    post_script=("document.documentElement.style.margin='0px';"
                 "document.body.style.margin='0px';"
                 "document.documentElement.style.overflow='hidden';"
                 "document.body.style.overflow='hidden';"),
)
